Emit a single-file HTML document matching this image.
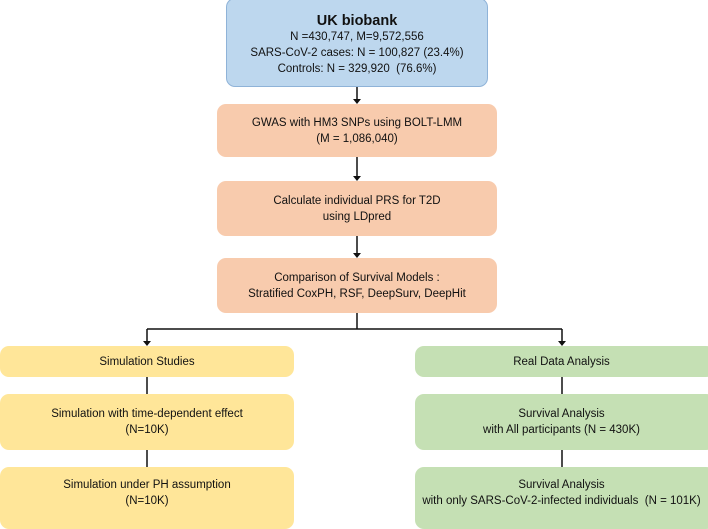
<!DOCTYPE html>
<html><head><style>
body{margin:0;width:708px;height:524px;background:#fff;position:relative;overflow:hidden;font-family:"Liberation Sans",sans-serif;color:#111}
.b{position:absolute;box-sizing:border-box;display:flex;flex-direction:column;justify-content:center;align-items:center;text-align:center;font-size:11.5px;line-height:16px;border-radius:9px}
.blue{background:#bdd7ee;border:1px solid #8fb3d8}
.or{background:#f8cbad}.ye{background:#ffe699}.gr{background:#c5e0b4}
svg{position:absolute;left:0;top:0}
</style></head><body>
<div class="b blue" style="left:226px;top:-2px;width:262px;height:89px;font-size:11.5px;line-height:16px;padding-top:4px"><b style="font-size:14.5px">UK biobank</b>N =430,747, M=9,572,556<br>SARS-CoV-2 cases: N = 100,827 (23.4%)<br>Controls: N = 329,920&nbsp; (76.6%)</div>
<div class="b or" style="left:217px;top:104px;width:280px;height:53px">GWAS with HM3 SNPs using BOLT-LMM<br>(M = 1,086,040)</div>
<div class="b or" style="left:217px;top:181px;width:280px;height:55px">Calculate individual PRS for T2D<br>using LDpred</div>
<div class="b or" style="left:217px;top:258px;width:280px;height:55px">Comparison of Survival Models :<br>Stratified CoxPH, RSF, DeepSurv, DeepHit</div>
<div class="b ye" style="left:0;top:346px;width:294px;height:31px">Simulation Studies</div>
<div class="b ye" style="left:0;top:394px;width:294px;height:56px">Simulation with time-dependent effect<br>(N=10K)</div>
<div class="b ye" style="left:0;top:467px;width:294px;height:62px;justify-content:flex-start;padding-top:10px">Simulation under PH assumption<br>(N=10K)</div>
<div class="b gr" style="left:415px;top:346px;width:300px;height:31px;padding-right:7px">Real Data Analysis</div>
<div class="b gr" style="left:415px;top:394px;width:300px;height:56px;padding-right:7px">Survival Analysis<br>with All participants (N = 430K)</div>
<div class="b gr" style="left:415px;top:467px;width:300px;height:62px;justify-content:flex-start;padding-top:10px;padding-right:7px">Survival Analysis<br>with only SARS-CoV-2-infected individuals&nbsp; (N = 101K)</div>
<svg width="708" height="524"><g stroke="#111" stroke-width="1.5" fill="none">
<path d="M357 87V100M357 157V177M357 236V254M357 313V329M147 329H562M147 329V342M562 329V342M147 377V394M147 450V467M562 377V394M562 450V467"/></g>
<g fill="#111"><path d="M353 99L361 99L357 104Z"/><path d="M353 176L361 176L357 181Z"/><path d="M353 253L361 253L357 258Z"/><path d="M143 341L151 341L147 346Z"/><path d="M558 341L566 341L562 346Z"/></g></svg>
</body></html>
